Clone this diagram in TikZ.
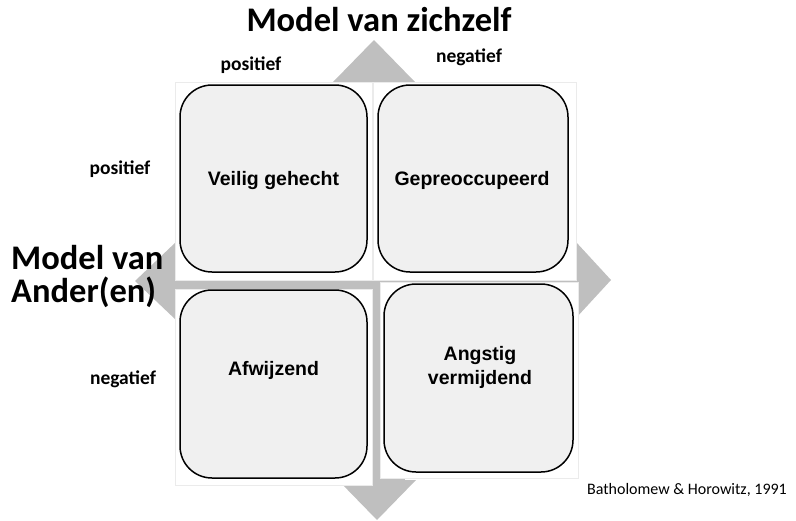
\documentclass[tikz,border=0pt]{standalone}
\usepackage{fontspec}
\setmainfont{Liberation Sans}
\newfontfamily\lab{Carlito}
\begin{document}
\begin{tikzpicture}[x=1pt,y=-1pt,
  arrowgray/.style={fill=black!25,draw=none},
  plate/.style={fill=white,draw=black!8,line width=0.6pt},
  qbox/.style={draw=black,line width=1.5pt,fill=black!6,rounded corners=32pt,inner sep=0pt},
  qtext/.style={font=\bfseries\fontsize{19.5}{24}\selectfont,align=center},
  axtitle/.style={font=\lab\bfseries\fontsize{34.5}{37}\selectfont,inner sep=0pt},
  axlabel/.style={font=\lab\bfseries\fontsize{19.5}{21}\selectfont,inner sep=0pt},
  ref/.style={font=\lab\fontsize{16}{18}\selectfont,inner sep=0pt}]
\useasboundingbox (0,0) rectangle (796,520);
% cross arrow
\fill[arrowgray] (345,82) rectangle (405,483);
\fill[arrowgray] (175,250) rectangle (577,312);
\fill[arrowgray] (333,82) -- (374,40) -- (415,82) -- cycle;
\fill[arrowgray] (338,480) -- (377,520) -- (416,480) -- cycle;
\fill[arrowgray] (176,242) -- (135,281) -- (176,320) -- cycle;
\fill[arrowgray] (576,242) -- (611,280) -- (576,318) -- cycle;
% white plates
\filldraw[plate] (175,82) rectangle (372,280);
\filldraw[plate] (373,82) rectangle (576,280);
\filldraw[plate] (175,289) rectangle (372,485);
\filldraw[plate] (380,282) rectangle (578,478);
% boxes
\node[qbox,minimum width=187pt,minimum height=187pt] (tl) at (273.5,178.5) {};
\node[qbox,minimum width=190pt,minimum height=187pt] (tr) at (473,178.5) {};
\node[qbox,minimum width=187pt,minimum height=188pt] (bl) at (273.5,384) {};
\node[qbox,minimum width=189pt,minimum height=188pt] (br) at (478.5,378) {};
\node[qtext] (tlt) at (273.5,180) {Veilig gehecht};
\node[qtext] (trt) at (472,180) {Gepreoccupeerd};
\node[qtext] (blt) at (273.5,370) {Afwijzend};
\node[qtext] (brt) at (480,367) {Angstig\\vermijdend};
% labels
\node[axtitle] (ttl) at (379,20) {Model van zichzelf};
\node[axtitle,align=left,anchor=west] (ltl) at (11,277) {Model van\\[-4pt]Ander(en)};
\node[axlabel] (p1) at (251,65) {positief};
\node[axlabel] (n1) at (469,57) {negatief};
\node[axlabel] (p2) at (120,169) {positief};
\node[axlabel] (n2) at (123,379) {negatief};
\node[ref] (src) at (687,490) {Batholomew \& Horowitz, 1991};
\end{tikzpicture}
\end{document}
